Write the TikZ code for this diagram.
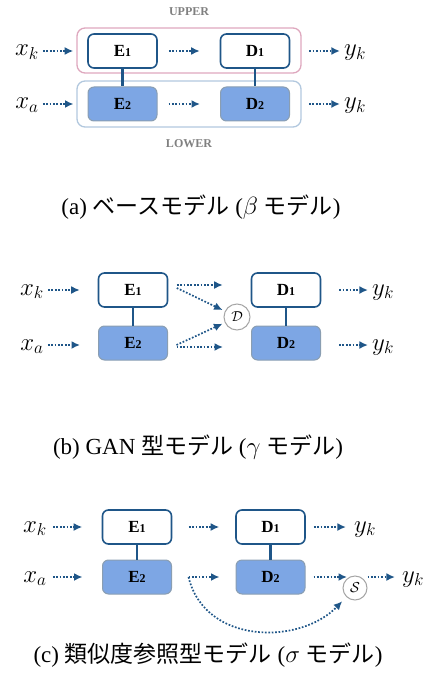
\documentclass[tikz,border=0pt]{standalone}
\usepackage{fontspec}
\setmainfont{Liberation Serif}
\newfontfamily\jpfont[Scale=1.0]{Noto Sans CJK JP}
\usepackage{tikz}
\usetikzlibrary{arrows.meta}
\definecolor{navy}{RGB}{31,86,136}
\definecolor{boxfill}{RGB}{125,166,228}
\definecolor{boxedge}{RGB}{138,158,178}
\definecolor{pinkedge}{RGB}{222,168,190}
\definecolor{blueedge}{RGB}{178,200,222}
\definecolor{circedge}{RGB}{165,165,165}
\tikzset{
  >={Latex[length=8.5pt,width=8pt]},
}
\tikzstyle{every node}=[font=\fontsize{23}{26}\selectfont]
\tikzstyle{upper}=[draw=navy,line width=1.6pt,fill=white,rounded corners=6pt,minimum width=69pt,minimum height=34pt,font=\fontsize{17}{19}\selectfont\bfseries]
\tikzstyle{lower}=[upper,draw=boxedge,line width=1pt,fill=boxfill]
\tikzstyle{lab}=[inner sep=0pt,text height=12pt,text depth=2pt,font=\fontsize{24}{28}\selectfont]
\tikzstyle{tag}=[text=gray,font=\fontsize{12}{14}\selectfont\bfseries]
\tikzstyle{flow}=[navy,line width=1.7pt,dash pattern=on 1.7pt off 1.7pt,->]
\tikzstyle{link}=[navy,line width=2.5pt]
\tikzstyle{group}=[rounded corners=8pt,line width=1.3pt]
\tikzstyle{score}=[circle,draw=circedge,line width=1pt,fill=white,inner sep=0pt,font=\fontsize{14}{16}\selectfont]
\newcommand{\sub}[2]{#1{\fontsize{12}{13}\selectfont #2}}

\begin{document}
\begin{tikzpicture}[x=1pt,y=-1pt]
    \useasboundingbox (0,0) rectangle (428,695);
    \draw[group,draw=pinkedge] (77,28) rectangle (301,73);
    \draw[group,draw=blueedge] (77,81) rectangle (301,127);
    \node[tag] (upa) at (189,12) {UPPER};
    \node[tag] (lowa) at (189,144) {LOWER};
    \node[upper] (E1a) at (122.5,51) {\sub{E}{1}};
    \node[upper] (D1a) at (255,51) {\sub{D}{1}};
    \node[lower] (E2a) at (122.5,104) {\sub{E}{2}};
    \node[lower] (D2a) at (255,104) {\sub{D}{2}};
    \node[lab] (xka) at (27,51) {$x_k$};
    \node[lab] (xaa) at (27,104) {$x_a$};
    \node[lab] (yka) at (355,51) {$y_k$};
    \node[lab] (ykb) at (355,104) {$y_k$};
    \draw[link] (E1a) -- (E2a);
    \draw[link] (D1a) -- (D2a);
    \draw[flow,shorten <=4pt,shorten >=14pt] (xka) -- (E1a);
    \draw[flow,shorten <=4pt,shorten >=14pt] (xaa) -- (E2a);
    \draw[flow,shorten <=11pt,shorten >=20pt] (E1a) -- (D1a);
    \draw[flow,shorten <=11pt,shorten >=20pt] (E2a) -- (D2a);
    \draw[flow,shorten <=19pt,shorten >=4pt] (D1a) -- (yka);
    \draw[flow,shorten <=19pt,shorten >=4pt] (D2a) -- (ykb);
    \node (capa) at (201,207) {(a) {\jpfont ベースモデル} ($\beta$ {\jpfont モデル})};

    \node[upper] (E1b) at (133,290) {\sub{E}{1}};
    \node[upper] (D1b) at (286,290) {\sub{D}{1}};
    \node[lower] (E2b) at (133,343) {\sub{E}{2}};
    \node[lower] (D2b) at (286,343) {\sub{D}{2}};
    \node[score,minimum size=26pt] (dsc) at (237,317) {$\mathcal{D}$};
    \node[lab] (xkb) at (32,290) {$x_k$};
    \node[lab] (xab) at (32,345) {$x_a$};
    \node[lab] (ykc) at (383,290) {$y_k$};
    \node[lab] (ykd) at (383,345) {$y_k$};
    \draw[link] (E1b) -- (E2b);
    \draw[link] (D1b) -- (D2b);
    \draw[flow,shorten <=4pt,shorten >=18pt] (xkb) -- (xkb -| E1b.west);
    \draw[flow,shorten <=4pt,shorten >=18pt] (xab) -- (xab -| E2b.west);
    \draw[flow] ([shift={(8.5pt,5pt)}]E1b.east) -- ([shift={(-28pt,5pt)}]D1b.west);
    \draw[flow,shorten >=2.5pt] ([shift={(8.5pt,2pt)}]E1b.east) -- (dsc);
    \draw[flow,shorten >=2.5pt] ([shift={(8.5pt,-2pt)}]E2b.east) -- (dsc);
    \draw[flow] ([shift={(8.5pt,-4pt)}]E2b.east) -- ([shift={(-28pt,-4pt)}]D2b.west);
    \draw[flow,shorten <=18pt,shorten >=4pt] (D1b.east) -- (ykc);
    \draw[flow,shorten <=18pt,shorten >=4pt] (D2b.east |- ykd) -- (ykd);
    \node (capb) at (198,447) {(b) GAN {\jpfont 型モデル} ($\gamma$ {\jpfont モデル})};

    \node[upper] (E1c) at (137,527) {\sub{E}{1}};
    \node[upper] (D1c) at (270.5,527) {\sub{D}{1}};
    \node[lower] (E2c) at (137,577) {\sub{E}{2}};
    \node[lower] (D2c) at (270.5,577) {\sub{D}{2}};
    \node[score,minimum size=24pt] (ssc) at (355,588) {$\mathcal{S}$};
    \node[lab] (xkc) at (35,527) {$x_k$};
    \node[lab] (xac) at (35,577) {$x_a$};
    \node[lab] (yke) at (365,527) {$y_k$};
    \node[lab] (ykf) at (413,577) {$y_k$};
    \coordinate (sin) at (347,577);
    \draw[link] (E1c) -- (E2c);
    \draw[link] (D1c) -- (D2c);
    \draw[flow,shorten <=6pt,shorten >=19.5pt] (xkc) -- (E1c);
    \draw[flow,shorten <=6pt,shorten >=19.5pt] (xac) -- (E2c);
    \draw[flow,shorten <=16.5pt,shorten >=16pt] (E1c) -- (D1c);
    \draw[flow,shorten <=16.5pt,shorten >=16pt] (E2c) -- (D2c);
    \draw[flow,shorten <=8pt,shorten >=8pt] (D1c) -- (yke);
    \draw[flow,shorten <=8pt] (D2c) -- (sin);
    \draw[flow,shorten >=7pt] (ssc.east |- ykf) -- (ykf);
    \draw[flow,shorten >=6pt] ([xshift=16.5pt]E2c.east) .. controls (205,645) and (300,645) .. (ssc);
    \node (capc) at (208,655) {(c) {\jpfont 類似度参照型モデル} ($\sigma$ {\jpfont モデル})};
\end{tikzpicture}
\end{document}
